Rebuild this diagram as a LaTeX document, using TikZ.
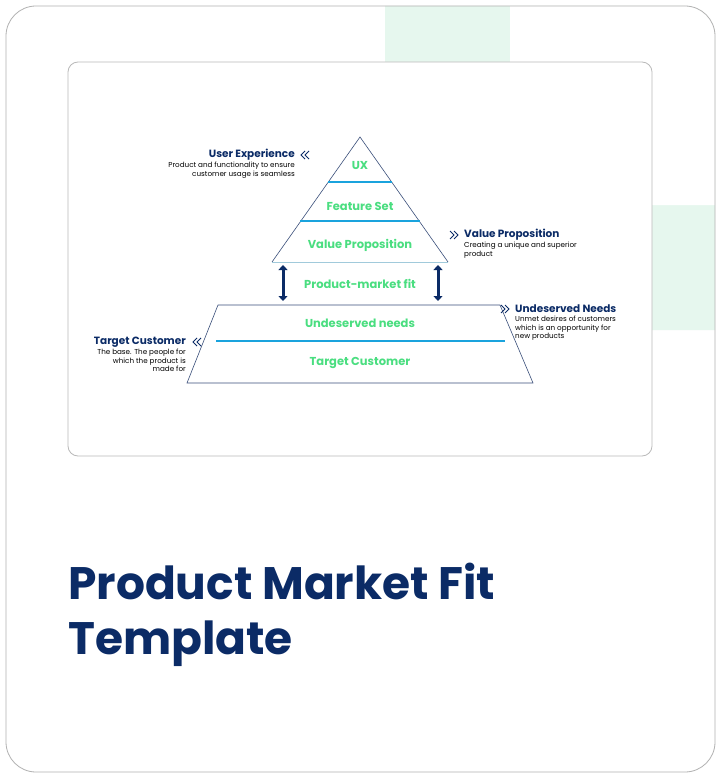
\documentclass[tikz,border=0pt]{standalone}
\usepackage{fontspec}
\setmainfont{Poppins}
\usetikzlibrary{arrows.meta}
\definecolor{navy}{HTML}{0B2B66}
\definecolor{mint}{HTML}{4ADE80}
\definecolor{pale}{HTML}{E6F7EE}
\definecolor{bluel}{HTML}{1AA3DD}
\definecolor{edge}{HTML}{3A4F7A}
\tikzset{
  lvl/.style={font=\bfseries\fontsize{11.5}{12}\selectfont, text=mint},
  head/.style={font=\bfseries\fontsize{10.5}{11}\selectfont, text=navy, inner sep=0pt},
  desc/.style={font=\fontsize{7.2}{8.4}\selectfont, text=black, inner sep=0pt, align=left},
  chevl/.pic={\draw[navy, line width=0.8pt] (4,-4) -- (0,0) -- (4,4) (8,-4) -- (4,0) -- (8,4);},
  chevr/.pic={\draw[navy, line width=0.8pt] (-4,-4) -- (0,0) -- (-4,4) (-8,-4) -- (-4,0) -- (-8,4);},
  sep/.style={bluel, line width=2.2pt},
  outline/.style={edge, line width=0.6pt},
  dbl/.style={navy, line width=3pt, {Triangle[length=5pt,width=9pt]}-{Triangle[length=5pt,width=9pt]}}
}
\begin{document}
\begin{tikzpicture}[x=1pt,y=-1pt]
\useasboundingbox (0,0) rectangle (721,778);
\fill[white] (0,0) rectangle (721,778);
\begin{scope}
\clip[rounded corners=30] (6,6) rectangle (715,772);
\fill[pale, rounded corners=120] (385,-200) rectangle (900,330);
\fill[white, rounded corners=90] (510,-200) rectangle (900,205);
\end{scope}
\draw[gray!60, line width=0.8pt, rounded corners=30] (6,6) rectangle (715,772);
\draw[gray!55, fill=white, line width=0.8pt, rounded corners=10] (68,62) rectangle (652,456);

% top triangle
\coordinate (apex) at (360,137);
\coordinate (tl) at (272,262);
\coordinate (tr) at (448,262);
\draw[outline] (tl) -- (apex) -- (tr);
\draw[gray!40!bluel!50, line width=1pt] (tl) -- (tr);
\draw[sep] (328,182) -- (392,182);
\draw[sep] (300,221) -- (420,221);
% trapezoid
\coordinate (bl) at (187,383);
\coordinate (br) at (533,383);
\draw[outline] (bl) -- (218,305) -- (500,305) -- (br) -- cycle;
\draw[sep] (216,341) -- (505,341);

\node[lvl] (ux) at (360,166) {UX};
\node[lvl] (fs) at (360,206) {Feature Set};
\node[lvl] (vp) at (360,245) {Value Proposition};
\node[lvl] (pmf) at (360,284) {Product-market fit};
\node[lvl] (un) at (360,323) {Undeserved needs};
\node[lvl] (tc) at (360,363) {Target Customer};

\coordinate (a1t) at (283,265); \coordinate (a1b) at (283,301);
\coordinate (a2t) at (438,265); \coordinate (a2b) at (438,301);
\draw[dbl] (a1t) -- (a1b);
\draw[dbl] (a2t) -- (a2b);

% annotations
\pic at (301,155) {chevl};
\node[head, anchor=east] (h1) at (295,155) {User Experience};
\node[desc, anchor=north east, align=right] (d1) at (295,162) {Product and functionality to ensure\\customer usage is seamless};

\pic at (458,235) {chevr};
\node[head, anchor=west] (h2) at (464,235) {Value Proposition};
\node[desc, anchor=north west] (d2) at (464,242) {Creating a unique and superior\\product};

\pic at (509,309) {chevr};
\node[head, anchor=west] (h3) at (515,309) {Undeserved Needs};
\node[desc, anchor=north west] (d3) at (515,316) {Unmet desires of customers\\which is an opportunity for\\new products};

\pic at (193,342) {chevl};
\node[head, anchor=east] (h4) at (186,342) {Target Customer};
\node[desc, anchor=north east, align=right] (d4) at (186,349) {The base. The people for\\which the product is\\made for};

\node[font=\bfseries\fontsize{45.5}{55}\selectfont, text=navy, anchor=north west, align=left, inner sep=0pt] (title) at (68,563) {Product Market Fit\\Template};
\end{tikzpicture}
\end{document}
